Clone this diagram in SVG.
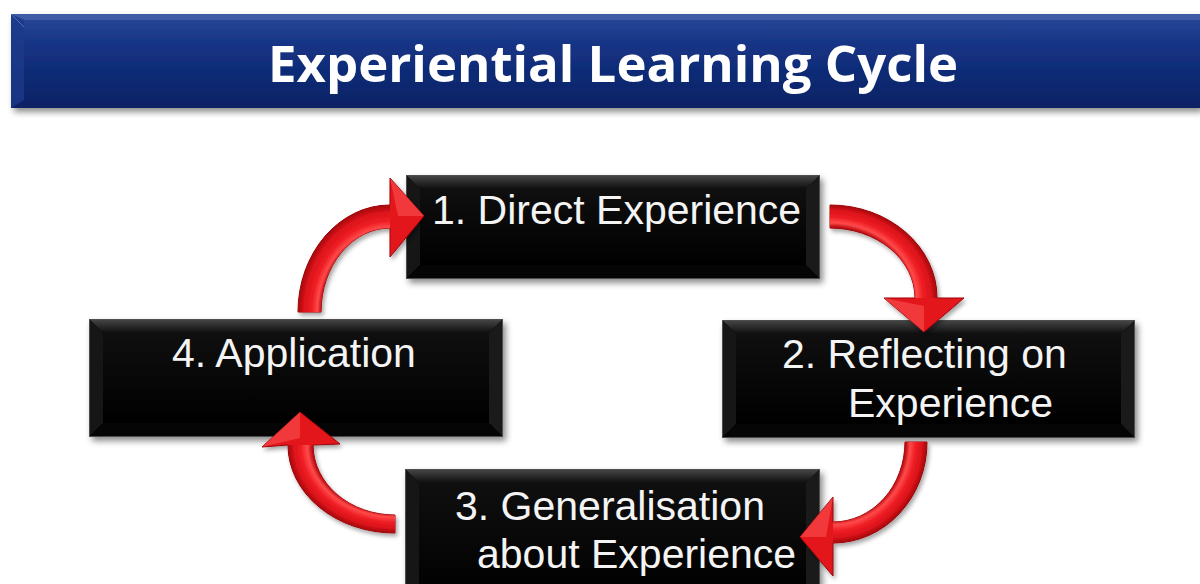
<svg xmlns="http://www.w3.org/2000/svg" width="1200" height="584" viewBox="0 0 1200 584">
  <defs>
    <linearGradient id="band" x1="0" y1="0" x2="0" y2="1">
      <stop offset="0" stop-color="#2a4898"/>
      <stop offset="0.35" stop-color="#143283"/>
      <stop offset="1" stop-color="#0a2264"/>
    </linearGradient>
    <linearGradient id="face" x1="0" y1="0" x2="0" y2="1">
      <stop offset="0" stop-color="#0f0f0f"/>
      <stop offset="1" stop-color="#000"/>
    </linearGradient>
    <linearGradient id="bevTop" x1="0" y1="0" x2="0" y2="1">
      <stop offset="0" stop-color="#484848"/>
      <stop offset="1" stop-color="#0e0e0e"/>
    </linearGradient>
    <filter id="shadow" x="-10%" y="-10%" width="125%" height="130%">
      <feDropShadow dx="3" dy="4" stdDeviation="3" flood-color="#000" flood-opacity="0.45"/>
    </filter>
    <filter id="ashadow" x="-10%" y="-10%" width="130%" height="130%">
      <feDropShadow dx="2" dy="3" stdDeviation="2" flood-color="#000" flood-opacity="0.35"/>
    </filter>
    <radialGradient id="g1" gradientUnits="userSpaceOnUse" cx="0" cy="0" r="1" gradientTransform="translate(390 312) scale(92 107)">
      <stop offset="0.74" stop-color="#b3070d"/>
      <stop offset="0.79" stop-color="#ff4a4a"/>
      <stop offset="0.85" stop-color="#ee1e24"/>
      <stop offset="0.94" stop-color="#d81219"/>
      <stop offset="1" stop-color="#a0060b"/>
    </radialGradient>
    <radialGradient id="g2" gradientUnits="userSpaceOnUse" cx="0" cy="0" r="1" gradientTransform="translate(830 298) scale(107 93)">
      <stop offset="0.76" stop-color="#b3070d"/>
      <stop offset="0.81" stop-color="#ff4a4a"/>
      <stop offset="0.87" stop-color="#ee1e24"/>
      <stop offset="0.95" stop-color="#d81219"/>
      <stop offset="1" stop-color="#a0060b"/>
    </radialGradient>
    <radialGradient id="g3" gradientUnits="userSpaceOnUse" cx="0" cy="0" r="1" gradientTransform="translate(833 442) scale(94 101)">
      <stop offset="0.77" stop-color="#b3070d"/>
      <stop offset="0.82" stop-color="#ff4a4a"/>
      <stop offset="0.88" stop-color="#ee1e24"/>
      <stop offset="0.95" stop-color="#d81219"/>
      <stop offset="1" stop-color="#a0060b"/>
    </radialGradient>
    <radialGradient id="g4" gradientUnits="userSpaceOnUse" cx="0" cy="0" r="1" gradientTransform="translate(395 445) scale(107 88)">
      <stop offset="0.77" stop-color="#b3070d"/>
      <stop offset="0.82" stop-color="#ff4a4a"/>
      <stop offset="0.88" stop-color="#ee1e24"/>
      <stop offset="0.95" stop-color="#d81219"/>
      <stop offset="1" stop-color="#a0060b"/>
    </radialGradient>
  </defs>
  <style>
    .title { font-family: "Open Sans", "Lato", sans-serif; font-weight: bold; font-size: 51px; fill: #ffffff; }
    .lbl { font-family: "Liberation Sans", Arial, sans-serif; font-size: 41px; fill: #f4f4f4; }
    .face { fill: url(#face); }
    .top { fill: url(#bevTop); }
    .left { fill: #161616; }
    .right { fill: #1a1a1a; }
    .bottom { fill: #050505; }
    .edge { fill: none; stroke: #4e4e4e; stroke-width: 1; }
    .arrow { fill: #e3151b; stroke: #9e060b; stroke-width: 1; }
    .hl { fill: #ff5c5c; opacity: 0.5; }
  </style>
  <rect width="1200" height="584" fill="#ffffff"/>

  <g id="header">
    <rect x="11" y="14" width="1189" height="94" fill="url(#band)" filter="url(#shadow)"/>
    <polygon points="11,14 1200,14 1200,20 24,20" fill="#4f69b0" opacity="0.6"/>
    <polygon points="11,14 24,20 24,100 11,108" fill="#1d3a8a" opacity="0.8"/>
    <line x1="11" y1="14" x2="24" y2="27" stroke="#6a80c0" stroke-width="1" opacity="0.7"/>
    <text class="title" x="613" y="82" text-anchor="middle" textLength="690" lengthAdjust="spacingAndGlyphs">Experiential Learning Cycle</text>
  </g>

  <g id="node1">
    <g filter="url(#shadow)">
      <rect x="406" y="175" width="414" height="104" fill="#000"/>
    </g>
    <polygon class="top" points="406,175 820,175 806,189 420,189"/>
    <polygon class="left" points="406,175 420,189 420,265 406,279"/>
    <polygon class="right" points="820,175 806,189 806,265 820,279"/>
    <polygon class="bottom" points="406,279 420,265 806,265 820,279"/>
    <rect class="face" x="420" y="189" width="386" height="76"/>
    <rect class="edge" x="406.5" y="175.5" width="413" height="103"/>
    <text class="lbl" x="432" y="224">1. Direct Experience</text>
  </g>

  <g id="node2">
    <g filter="url(#shadow)">
      <rect x="722" y="320" width="413" height="118" fill="#000"/>
    </g>
    <polygon class="top" points="722,320 1135,320 1121,334 736,334"/>
    <polygon class="left" points="722,320 736,334 736,424 722,438"/>
    <polygon class="right" points="1135,320 1121,334 1121,424 1135,438"/>
    <polygon class="bottom" points="722,438 736,424 1121,424 1135,438"/>
    <rect class="face" x="736" y="334" width="385" height="90"/>
    <rect class="edge" x="722.5" y="320.5" width="412" height="117"/>
    <text class="lbl" x="782" y="368">2. Reflecting on</text>
    <text class="lbl" x="848" y="417">Experience</text>
  </g>

  <g id="node3">
    <g filter="url(#shadow)">
      <rect x="405" y="469" width="415" height="130" fill="#000"/>
    </g>
    <polygon class="top" points="405,469 820,469 806,483 419,483"/>
    <polygon class="left" points="405,469 419,483 419,599 405,599"/>
    <polygon class="right" points="820,469 806,483 806,599 820,599"/>
    <rect class="face" x="419" y="483" width="387" height="116"/>
    <rect class="edge" x="405.5" y="469.5" width="414" height="130"/>
    <text class="lbl" x="455" y="520">3. Generalisation</text>
    <text class="lbl" x="477" y="568">about Experience</text>
  </g>

  <g id="node4">
    <g filter="url(#shadow)">
      <rect x="89" y="319" width="414" height="118" fill="#000"/>
    </g>
    <polygon class="top" points="89,319 503,319 489,333 103,333"/>
    <polygon class="left" points="89,319 103,333 103,423 89,437"/>
    <polygon class="right" points="503,319 489,333 489,423 503,437"/>
    <polygon class="bottom" points="89,437 103,423 489,423 503,437"/>
    <rect class="face" x="103" y="333" width="386" height="90"/>
    <rect class="edge" x="89.5" y="319.5" width="413" height="117"/>
    <text class="lbl" x="172" y="367">4. Application</text>
  </g>

  <g id="connectors">
    <g id="arrow-4-1" filter="url(#ashadow)">
      <path class="arrow" d="M298,312 A92,107 0 0 1 390,205 L390,178 L424,216 L390,257 L390,228 A69,84 0 0 0 321,312 Z"/>
      <path d="M298,312 A92,107 0 0 1 390,205 L390,228 A69,84 0 0 0 321,312 Z" fill="url(#g1)"/>
      <polygon class="hl" points="390,178 424,216 398,216"/>
    </g>
    <g id="arrow-1-2" filter="url(#ashadow)">
      <path class="arrow" d="M830,205 A107,93 0 0 1 937,298 L964,298 L924,332 L884,298 L915,298 A85,70 0 0 0 830,228 Z"/>
      <path d="M830,205 A107,93 0 0 1 937,298 L915,298 A85,70 0 0 0 830,228 Z" fill="url(#g2)"/>
      <polygon class="hl" points="884,298 924,332 924,306"/>
    </g>
    <g id="arrow-2-3" filter="url(#ashadow)">
      <path class="arrow" d="M927,442 A94,101 0 0 1 833,543 L833,576 L800,537 L833,497 L833,522 A72,80 0 0 0 905,442 Z"/>
      <path d="M927,442 A94,101 0 0 1 833,543 L833,522 A72,80 0 0 0 905,442 Z" fill="url(#g3)"/>
      <polygon class="hl" points="833,497 800,537 826,537"/>
    </g>
    <g id="arrow-3-4" filter="url(#ashadow)">
      <path class="arrow" d="M395,533 A107,88 0 0 1 288,445 L262,447 L300,412 L340,444 L313,445 A82,70 0 0 0 395,515 Z"/>
      <path d="M395,533 A107,88 0 0 1 288,445 L313,445 A82,70 0 0 0 395,515 Z" fill="url(#g4)"/>
      <polygon class="hl" points="262,447 300,412 300,438"/>
    </g>
  </g>
</svg>
